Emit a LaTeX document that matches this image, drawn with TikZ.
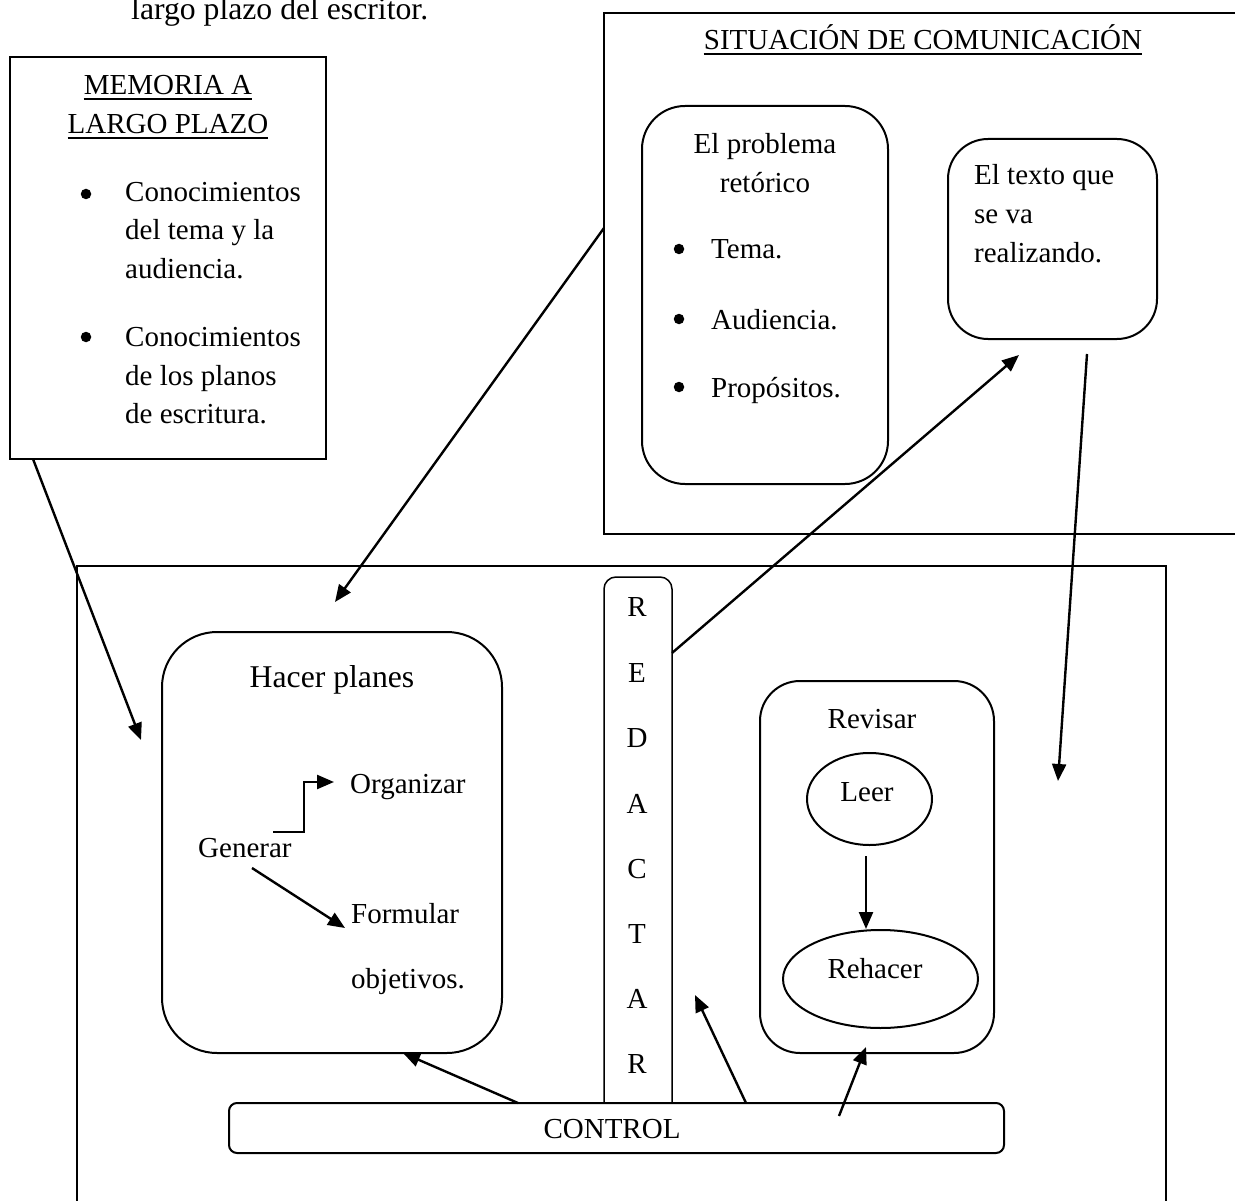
\documentclass[tikz,border=0pt]{standalone}
\usepackage{fontspec}
\setmainfont{Liberation Serif}
\usetikzlibrary{shapes.geometric,arrows.meta,calc}
\newcommand\tf{\fontsize{29}{35}\selectfont}
\newcommand\tfl{\fontsize{31.7}{38}\selectfont}
\begin{document}
\begin{tikzpicture}[x=1pt,y=-1pt,line join=miter,
  box/.style={draw,line width=2pt,inner sep=0pt},
  rbox/.style={box,rounded corners=#1},
  txt/.style={font=\tf,inner sep=0pt},
  txtl/.style={font=\tfl,inner sep=0pt},
  dot/.style={circle,fill,inner sep=0pt,minimum size=10.5pt},
  arr/.style={line width=2.4pt,-{Triangle[length=17pt,width=14pt]}},
  uline/.style={line width=1.6pt}]
\useasboundingbox (0,0) rectangle (1235,1201);

% top caption
\node[txtl,anchor=base west] (cap) at (131,20) {largo plazo del escritor.};

% MEMORIA A LARGO PLAZO
\node[box,minimum width=316pt,minimum height=402pt] (mem) at (168,258) {};
\node[txt,anchor=base] (mem1) at (168,95) {MEMORIA A};
\node[txt,anchor=base] (mem2) at (168,134) {LARGO PLAZO};
\draw[uline] ([yshift=-4pt]mem1.base west) -- ([yshift=-4pt]mem1.base east);
\draw[uline] ([yshift=-4pt]mem2.base west) -- ([yshift=-4pt]mem2.base east);
\node[dot] (mb1) at (86,194) {};
\node[txt,anchor=base west] (ml1) at (125,202) {Conocimientos};
\node[txt,anchor=base west] (ml2) at (125,240) {del tema y la};
\node[txt,anchor=base west] (ml3) at (125,279) {audiencia.};
\node[dot] (mb2) at (86,337) {};
\node[txt,anchor=base west] (ml4) at (125,346) {Conocimientos};
\node[txt,anchor=base west] (ml5) at (125,385) {de los planos};
\node[txt,anchor=base west] (ml6) at (125,423) {de escritura.};

% SITUACION DE COMUNICACION
\node[box,minimum width=696pt,minimum height=521pt] (sit) at (952,273.5) {};
\node[txt,anchor=base] (sitt) at (923,50) {SITUACIÓN DE COMUNICACIÓN};
\draw[uline] ([yshift=-4pt]sitt.base west) -- ([yshift=-4pt]sitt.base east);

\node[rbox=43pt,minimum width=246pt,minimum height=378pt] (prob) at (765,295) {};
\node[txt,anchor=base] (pt1) at (765,154) {El problema};
\node[txt,anchor=base] (pt2) at (765,193) {retórico};
\node[dot] (pb1) at (679,249) {};
\node[txt,anchor=base west] (pl1) at (711,259) {Tema.};
\node[dot] (pb2) at (679,319) {};
\node[txt,anchor=base west] (pl2) at (711,329) {Audiencia.};
\node[dot] (pb3) at (679,387) {};
\node[txt,anchor=base west] (pl3) at (711,397) {Propósitos.};

\node[rbox=40pt,minimum width=209pt,minimum height=200pt] (texto) at (1052.5,239) {};
\node[txt,anchor=base west] (tt1) at (974,185) {El texto que};
\node[txt,anchor=base west] (tt2) at (974,224) {se va};
\node[txt,anchor=base west] (tt3) at (974,263) {realizando.};

% big box
\node[box,minimum width=1089pt,minimum height=694pt] (big) at (621.5,913) {};

% REDACTAR
\node[draw,line width=1.5pt,rounded corners=12pt,inner sep=0pt,minimum width=68pt,minimum height=553pt] (red) at (638,853.5) {};
\foreach \l/\yy [count=\i] in {R/616,E/682,D/747,A/813,C/878,T/943,A/1008,R/1073}
  \node[txt,anchor=base] (red\i) at (637,\yy) {\l};

% Hacer planes
\node[rbox=55pt,minimum width=340pt,minimum height=421pt] (plan) at (332,842.5) {};
\node[txtl,anchor=base] (plant) at (332,687) {Hacer planes};
\node[txt,anchor=base west] (org) at (350,793) {Organizar};
\node[txt,anchor=base west] (gen) at (198,857) {Generar};
\node[txt,anchor=base west] (form) at (351,923) {Formular};
\node[txt,anchor=base west] (obj) at (351,988) {objetivos.};
\coordinate (genA) at (273,832);
\coordinate (orgIn) at (334,782);
\coordinate (genB) at (252,868);
\coordinate (formIn) at (345,928);
\draw[arr] (genA) -- ++(31,0) |- (orgIn);
\draw[arr] (genB) -- (formIn);

% Revisar
\node[rbox=40pt,minimum width=234pt,minimum height=372pt] (rev) at (877,867) {};
\node[txt,anchor=base] (revt) at (872,728) {Revisar};
\node[draw,line width=2pt,ellipse,inner sep=0pt,minimum width=125pt,minimum height=92pt] (leer) at (869.5,799) {};
\node[txt,anchor=base] (leert) at (867,801) {Leer};
\node[draw,line width=2pt,ellipse,inner sep=0pt,minimum width=195pt,minimum height=98pt] (reh) at (880.5,979) {};
\node[txt,anchor=base] (reht) at (875,978) {Rehacer};
\draw[arr] ($(leer.south)+(-3.5,10)$) -- ($(reh.north)+(-14.5,0)$);

% CONTROL
\node[draw,fill=white,line width=2pt,rounded corners=8pt,inner sep=0pt,minimum width=775pt,minimum height=50pt] (ctl) at (616.5,1128) {};
\node[txt,anchor=base] (ctlt) at (612,1138) {CONTROL};

% connectors
\coordinate (c1) at (518,1103);
\coordinate (c1t) at (403,1053);
\coordinate (c2) at (746,1103);
\coordinate (c2t) at (695,995);
\coordinate (c3) at (839,1116);
\coordinate (c3t) at (866,1047);
\draw[arr] (c1) -- (c1t);
\draw[arr] (c2) -- (c2t);
\draw[arr] (c3) -- (c3t);

\coordinate (sitOut) at (604,228);
\coordinate (planIn) at (335,602);
\draw[arr] (sitOut) -- (planIn);

\coordinate (memOut) at (33,459);
\coordinate (bigIn) at (141,740);
\draw[arr] (memOut) -- (bigIn);

\coordinate (redOut) at (672,653);
\coordinate (textoIn) at (1019,355);
\draw[arr] (redOut) -- (textoIn);

\coordinate (textoOut) at (1087,354);
\coordinate (bigIn2) at (1058,781);
\draw[arr] (textoOut) -- (bigIn2);
\end{tikzpicture}
\end{document}
